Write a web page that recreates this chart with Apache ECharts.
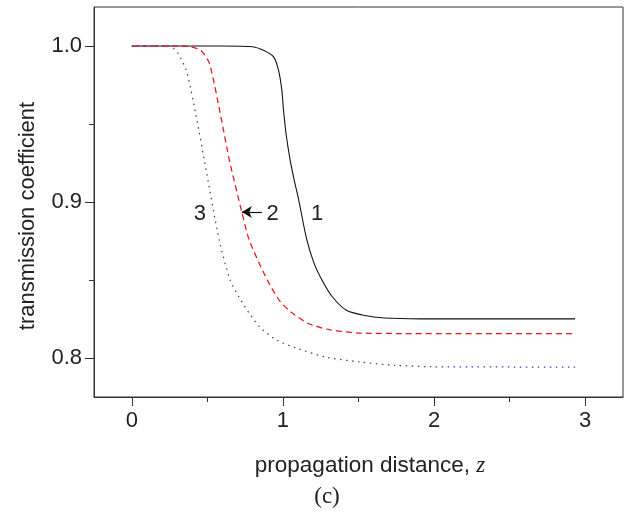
<!DOCTYPE html>
<html><head><meta charset="utf-8">
<script src="https://cdn.jsdelivr.net/npm/echarts@6/dist/echarts.min.js"></script>
<style>html,body{margin:0;padding:0;background:#fff}#c{width:633px;height:513px}</style>
</head><body><div id="c"></div>
<script>
// Curve 1 (black, solid)
const curve1 = [[0,1.0],[0.6,1.0],[0.8,0.9995],[0.871,0.9972],[0.938,0.993],[0.971,0.9844],[0.993,0.9716],[1.004,0.9588],[1.022,0.9428],[1.048,0.9267],[1.075,0.9139],[1.105,0.9011],[1.155,0.877],[1.205,0.861],[1.259,0.8499],[1.328,0.8391],[1.42,0.8306],[1.533,0.8274],[1.672,0.8256],[1.911,0.8251],[2.933,0.8251]];
// Curve 2 (red, dashed)
const curve2 = [[0,1.0],[0.3,1.0],[0.385,0.9995],[0.456,0.9972],[0.514,0.9887],[0.594,0.9524],[0.646,0.9267],[0.728,0.8936],[0.778,0.8754],[0.897,0.8499],[0.984,0.8359],[1.053,0.8295],[1.168,0.8221],[1.306,0.8182],[1.512,0.816],[1.8,0.8157],[2.933,0.8157]];
// Curve 3 (blue, dotted)
const curve3 = [[0,1.0],[0.2,1.0],[0.261,0.9995],[0.307,0.9951],[0.364,0.9833],[0.429,0.9535],[0.48,0.9267],[0.579,0.8754],[0.651,0.8499],[0.709,0.8391],[0.778,0.8285],[0.846,0.8199],[0.961,0.8113],[1.099,0.806],[1.283,0.8006],[1.512,0.7974],[1.742,0.7953],[1.98,0.7944],[2.933,0.7942]];
const xMajor = [0,1,2,3];
const xMinor = [0.5,1.5,2.5];
const yMajor = [0.8,0.9,1.0];
const yMinor = [0.85,0.95];
const curveLabels = ['1','2','3'];
const labelPos = [[1.226,0.8926],[0.931,0.8926],[0.451,0.8926]];
const arrowLine = [[0.861,0.8936],[0.728,0.8936]];

const chart = echarts.init(document.getElementById('c'));
const txt = '#222';
const ff = '"Liberation Sans", Arial, sans-serif';
const sf = '"Liberation Serif", "Times New Roman", serif';
const X = [-0.25, 3.25], Y = [0.775, 1.025];
const lineCommon = {show:true,onZero:false,lineStyle:{color:'#333',width:1}};
chart.setOption({
  animation:false,
  grid:{left:94,right:10,top:7,bottom:116,show:true,borderColor:'#333',borderWidth:1},
  xAxis:[
    {type:'value',min:X[0],max:X[1],position:'bottom',
     axisLine:lineCommon,
     axisTick:{show:true,customValues:xMajor,length:9,inside:false,lineStyle:{color:'#333'}},
     axisLabel:{customValues:xMajor,color:txt,fontSize:22,fontFamily:ff,margin:13,formatter:v=>String(v)},
     splitLine:{show:false}},
    {type:'value',min:X[0],max:X[1],position:'bottom',
     axisLine:{show:false,onZero:false},
     axisTick:{show:true,customValues:xMinor,length:5,lineStyle:{color:'#333'}},
     axisLabel:{show:false},splitLine:{show:false}}
  ],
  yAxis:[
    {type:'value',min:Y[0],max:Y[1],position:'left',
     axisLine:lineCommon,
     axisTick:{show:true,customValues:yMajor,length:9,lineStyle:{color:'#333'}},
     axisLabel:{customValues:yMajor,color:txt,fontSize:22,fontFamily:ff,margin:12,formatter:v=>v.toFixed(1)},
     splitLine:{show:false}},
    {type:'value',min:Y[0],max:Y[1],position:'left',
     axisLine:{show:false,onZero:false},
     axisTick:{show:true,customValues:yMinor,length:5,lineStyle:{color:'#333'}},
     axisLabel:{show:false},splitLine:{show:false}}
  ],
  series:[
    {type:'line',data:curve1,showSymbol:false,smooth:0.25,
     lineStyle:{color:'#111',width:1.1,type:'solid'}},
    {type:'line',data:curve2,showSymbol:false,smooth:0.25,
     lineStyle:{color:'#e8171c',width:1.25,type:[6,4]},
     markLine:{silent:true,symbol:['none','arrow'],symbolSize:[9,10],
       lineStyle:{color:'#111',width:1.2,type:'solid'},label:{show:false},
       data:[[{coord:arrowLine[0]},{coord:arrowLine[1]}]]}},
    {type:'line',data:curve3,showSymbol:false,smooth:0.25,
     lineStyle:{color:'#3a3aa8',width:1.25,type:[1.5,4.5]}}
  ]
});
const g = labelPos.map((p,i)=>{
  const px = chart.convertToPixel({xAxisIndex:0,yAxisIndex:0},p);
  return {type:'text',x:px[0],y:px[1],style:{text:curveLabels[i],fill:txt,font:'22px '+ff,align:'center',verticalAlign:'middle'}};
});
g.push({type:'text',x:28,y:216,rotation:Math.PI/2,
  style:{text:'transmission coefficient',fill:txt,font:'22px '+ff,align:'center',verticalAlign:'middle'}});
g.push({type:'text',x:370,y:466,
  style:{text:'propagation distance, {i|z}',fill:txt,font:'22.5px '+ff,align:'center',verticalAlign:'middle',
    rich:{i:{fontFamily:sf,fontStyle:'italic',fontSize:23,fill:txt}}}});
g.push({type:'text',x:327,y:497,style:{text:'(c)',fill:txt,font:'23px '+sf,align:'center',verticalAlign:'middle'}});
chart.setOption({graphic:g});
</script></body></html>
